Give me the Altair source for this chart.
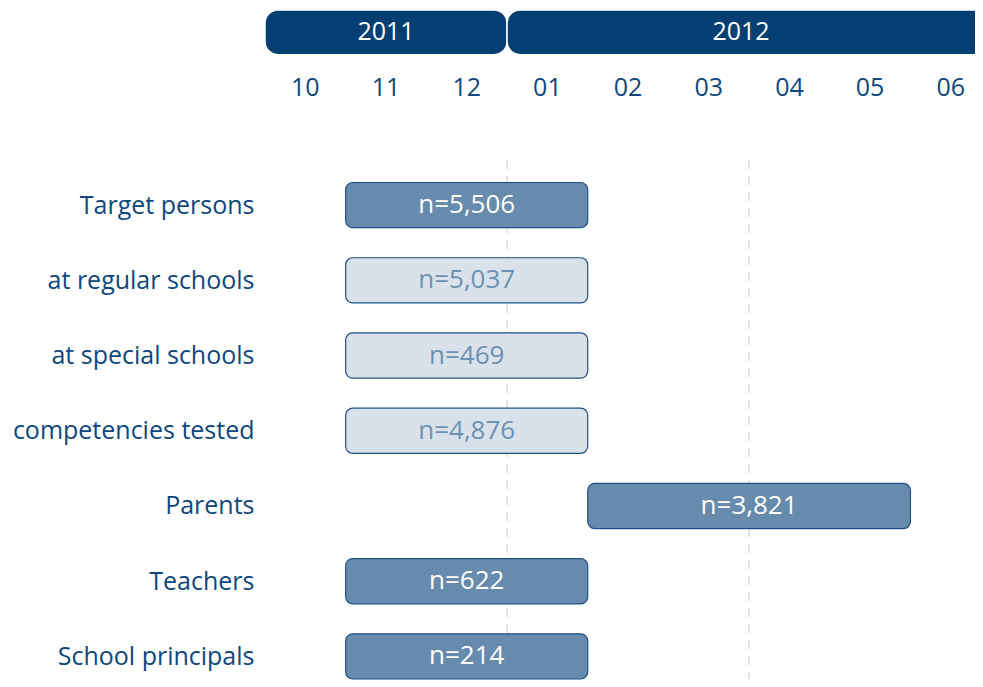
import altair as alt
import pandas as pd

# ---- data ----
rows = ["Target persons", "at regular schools", "at special schools",
        "competencies tested", "Parents", "Teachers", "School principals"]
start_month = [1, 1, 1, 1, 4, 1, 1]      # month index, 0 = Oct 2011
end_month = [4, 4, 4, 4, 8, 4, 4]
n_labels = ["n=5,506", "n=5,037", "n=469", "n=4,876", "n=3,821", "n=622", "n=214"]
shade = ["dark", "light", "light", "light", "dark", "dark", "dark"]

months = ["10", "11", "12", "01", "02", "03", "04", "05", "06"]
years = ["2011", "2012"]
year_start = [0, 3]
year_end = [3, 9]
milestones = [3, 6]

FONT = "Open Sans"
DARK = "#033F73"
LABEL = "#0E477C"

bars = pd.DataFrame({"row": list(range(len(rows))), "label": rows,
                     "start": start_month, "end": end_month,
                     "n": n_labels, "shade": shade})
month_df = pd.DataFrame({"m": months, "pos": [i + 0.5 for i in range(len(months))]})
year_df = pd.DataFrame({"year": years, "start": year_start, "end": year_end})
year_df["mid"] = [(year_start[0] + year_end[0]) / 2, 6.0 - 0.1]
mile_df = pd.DataFrame({"x": milestones})

x_scale = alt.Scale(domain=[0, 8.8], nice=False, zero=False)
y_scale = alt.Scale(domain=[-2.62, 6.3], nice=False, zero=False, reverse=True)

label_expr = "[" + ",".join("'" + r + "'" for r in rows) + "][datum.value]"

base_bar = alt.Chart(bars).transform_calculate(
    y0="datum.row - 0.3", y1="datum.row + 0.3", mid="(datum.start + datum.end) / 2"
)

rules = alt.Chart(mile_df).mark_rule(color="#E3E3E3", strokeWidth=2, strokeDash=[9, 7]).encode(
    x=alt.X("x:Q", scale=x_scale, axis=None),
    y=alt.datum(-0.6),
    y2=alt.datum(6.3),
)

rects = base_bar.mark_rect(cornerRadius=7, stroke="#1F5083", strokeWidth=1.2).encode(
    x=alt.X("start:Q", scale=x_scale, axis=None),
    x2="end:Q",
    y=alt.Y("y0:Q", scale=y_scale,
            axis=alt.Axis(values=list(range(len(rows))), labelExpr=label_expr,
                          grid=False, domain=False, ticks=False, title=None,
                          labelFont=FONT, labelFontSize=25, labelColor=LABEL,
                          labelPadding=11, labelLimit=400,
                          minExtent=257, maxExtent=257)),
    y2="y1:Q",
    fill=alt.Fill("shade:N", scale=alt.Scale(domain=["dark", "light"],
                                              range=["#678BAC", "#D9E2EB"]), legend=None),
)

bar_text = base_bar.mark_text(font=FONT, fontSize=26, baseline="middle", align="center").encode(
    x=alt.X("mid:Q", scale=x_scale),
    y=alt.Y("row:Q", scale=y_scale),
    text="n:N",
    color=alt.Color("shade:N", scale=alt.Scale(domain=["dark", "light"],
                                                range=["#FFFFFF", "#6E90B1"]), legend=None),
)

year_rects = alt.Chart(year_df).mark_rect(cornerRadius=13, fill=DARK, stroke="white",
                                          strokeWidth=1.5, clip=True).encode(
    x=alt.X("start:Q", scale=x_scale),
    x2="end:Q",
    y=alt.datum(-2.593),
    y2=alt.datum(-2.0),
)

year_text = alt.Chart(year_df).mark_text(font=FONT, fontSize=25, color="white",
                                         baseline="middle").encode(
    x=alt.X("mid:Q", scale=x_scale),
    y=alt.datum(-2.30),
    text="year:N",
)

month_text = alt.Chart(month_df).mark_text(font=FONT, fontSize=25, color=LABEL,
                                           baseline="middle").encode(
    x=alt.X("pos:Q", scale=x_scale),
    y=alt.datum(-1.556),
    text="m:N",
)

chart = alt.layer(rules, rects, bar_text, year_rects, year_text, month_text).properties(
    width=710, height=671, padding=0
).configure_view(stroke=None)

chart.save("out.html", embed_options={"renderer": "svg", "actions": False})
